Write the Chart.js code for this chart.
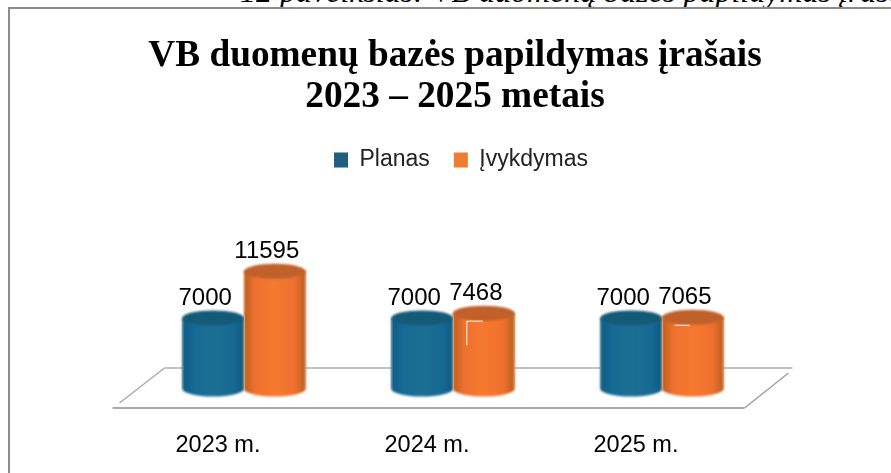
<!DOCTYPE html>
<html><head><meta charset="utf-8">
<script src="https://cdn.jsdelivr.net/npm/chart.js@4"></script>
<style>
html,body{margin:0;padding:0;background:#fff;width:891px;height:473px;overflow:hidden}
#cap{position:absolute;left:240px;top:-27px;font:italic 32px "Liberation Serif";color:#000;white-space:nowrap}
#frame{position:absolute;left:8px;top:7px;width:900px;height:500px;border:2px solid #8c8c8c;box-sizing:border-box}
#wrap{position:absolute;left:0;top:0;width:891px;height:473px}
</style></head><body>
<div id="cap">12 paveikslas: VB duomenų bazės papildymas įrašais</div>
<div id="frame"></div>
<div id="wrap"><canvas id="c" width="891" height="473"></canvas></div>
<script>
const categories = ['2023 m.', '2024 m.', '2025 m.'];
const planas = [7000, 7000, 7000];
const ivykdymas = [11595, 7468, 7065];
const seriesNames = ['Planas', 'Įvykdymas'];
const titleLines = ['VB duomenų bazės papildymas įrašais', '2023 – 2025 metais'];

const palette = [
  {flat:'#1f6080', edge:'#0f5a80', mid:'#1d6f92', top:'#145a78', low:'#156a94'},
  {flat:'#ed7d31', edge:'#b9601f', mid:'#f57a30', top:'#c0602a', low:'#f0702e'}
];

const cylinders = {
  id:'cylinders',
  afterLayout(chart){
    chart.legend.left += 8; chart.legend.right += 8;
    chart.legend.top -= 14; chart.legend.bottom -= 14;
    chart.titleBlock.left += 2; chart.titleBlock.right += 2;
  },
  beforeDatasetsDraw(chart){
    const {ctx} = chart;
    const x = chart.scales.x, y = chart.scales.y;
    const base = y.getPixelForValue(0);
    const left = x.left, right = x.right;
    const line = (a,b,c,d,col,w) => {ctx.strokeStyle=col;ctx.lineWidth=w;ctx.beginPath();ctx.moveTo(a,b);ctx.lineTo(c,d);ctx.stroke();};
    ctx.save();
    const front = base+19, back = base-21;
    line(left-27,front,right-22,front,'#8f8f86',1.5);
    line(left+25,back,right+26,back,'#7f8c90',1.2);
    line(left-20,front-5,left+25,back,'#a6a6a6',1.3);
    line(right-22,front,right+22,back+5,'#9a9a9a',1.3);
    ctx.restore();
  },
  afterDatasetsDraw(chart){
    const {ctx} = chart;
    chart.data.datasets.forEach((ds,i)=>{
      const c = palette[i];
      chart.getDatasetMeta(i).data.forEach((bar,j)=>{
        const cx = bar.x, w = bar.width, top = bar.y, bot = bar.base, rx = w/2, ry = 7.5;
        ctx.save();
        ctx.fillStyle='#fff';
        ctx.fillRect(cx-rx,top,w,bot-top);
        ctx.filter='blur(0.8px)';
        const g = ctx.createLinearGradient(cx-rx,0,cx+rx,0);
        g.addColorStop(0,c.edge); g.addColorStop(.18,c.low); g.addColorStop(.5,c.mid);
        g.addColorStop(.82,c.low); g.addColorStop(1,c.edge);
        ctx.fillStyle = g;
        ctx.beginPath();
        ctx.moveTo(cx-rx,top);
        ctx.lineTo(cx-rx,bot);
        ctx.ellipse(cx,bot,rx,ry,0,Math.PI,0,true);
        ctx.lineTo(cx+rx,top);
        ctx.closePath();
        ctx.fill();
        ctx.fillStyle = c.top;
        ctx.beginPath();
        ctx.ellipse(cx,top,rx,ry,0,0,Math.PI*2);
        ctx.fill();
        ctx.restore();
      });
    });
    // thin white scan marks on the orange cylinders
    const orange = chart.getDatasetMeta(1).data;
    ctx.save();
    ctx.strokeStyle='#fff';ctx.lineWidth=1;
    ctx.beginPath();
    ctx.moveTo(orange[1].x-17,orange[1].y+32);ctx.lineTo(orange[1].x-17,orange[1].y+8);ctx.lineTo(orange[1].x-1,orange[1].y+8);
    ctx.moveTo(orange[2].x-18,orange[2].y+8);ctx.lineTo(orange[2].x-3,orange[2].y+8);
    ctx.stroke();
    ctx.restore();
    chart.data.datasets.forEach((ds,i)=>{
      chart.getDatasetMeta(i).data.forEach((bar,j)=>{
        ctx.save();
        ctx.fillStyle='#000';
        ctx.font='24px "Liberation Sans"';
        ctx.textAlign='center';
        ctx.textBaseline='middle';
        ctx.fillText(String(ds.data[j]),bar.x-8,bar.y-20);
        ctx.restore();
      });
    });
  }
};

new Chart(document.getElementById('c'),{
  type:'bar',
  data:{labels:categories,datasets:[
    {label:seriesNames[0],data:planas,backgroundColor:palette[0].flat},
    {label:seriesNames[1],data:ivykdymas,backgroundColor:palette[1].flat}
  ]},
  plugins:[cylinders],
  options:{
    responsive:false,animation:false,
    layout:{padding:{left:139.5,right:124.5,top:35,bottom:0}},
    datasets:{bar:{barPercentage:1,categoryPercentage:0.59}},
    plugins:{
      tooltip:{enabled:false},
      title:{display:true,text:titleLines,color:'#000',
        font:{family:'"Liberation Serif"',size:37.3,weight:'bold',lineHeight:1.12},
        padding:{top:0,bottom:20}},
      legend:{position:'top',labels:{boxWidth:14,boxHeight:15,color:'#222',
        font:{family:'"Liberation Sans"',size:23},padding:24}}
    },
    scales:{
      x:{grid:{display:false},border:{display:false},
        afterFit(s){ s.height = 84; },
        ticks:{color:'#000',font:{family:'"Liberation Sans"',size:23.5},padding:34,labelOffset:-26,maxRotation:0}},
      y:{display:false,min:0,max:19050}
    }
  }
});
</script>
</body></html>
